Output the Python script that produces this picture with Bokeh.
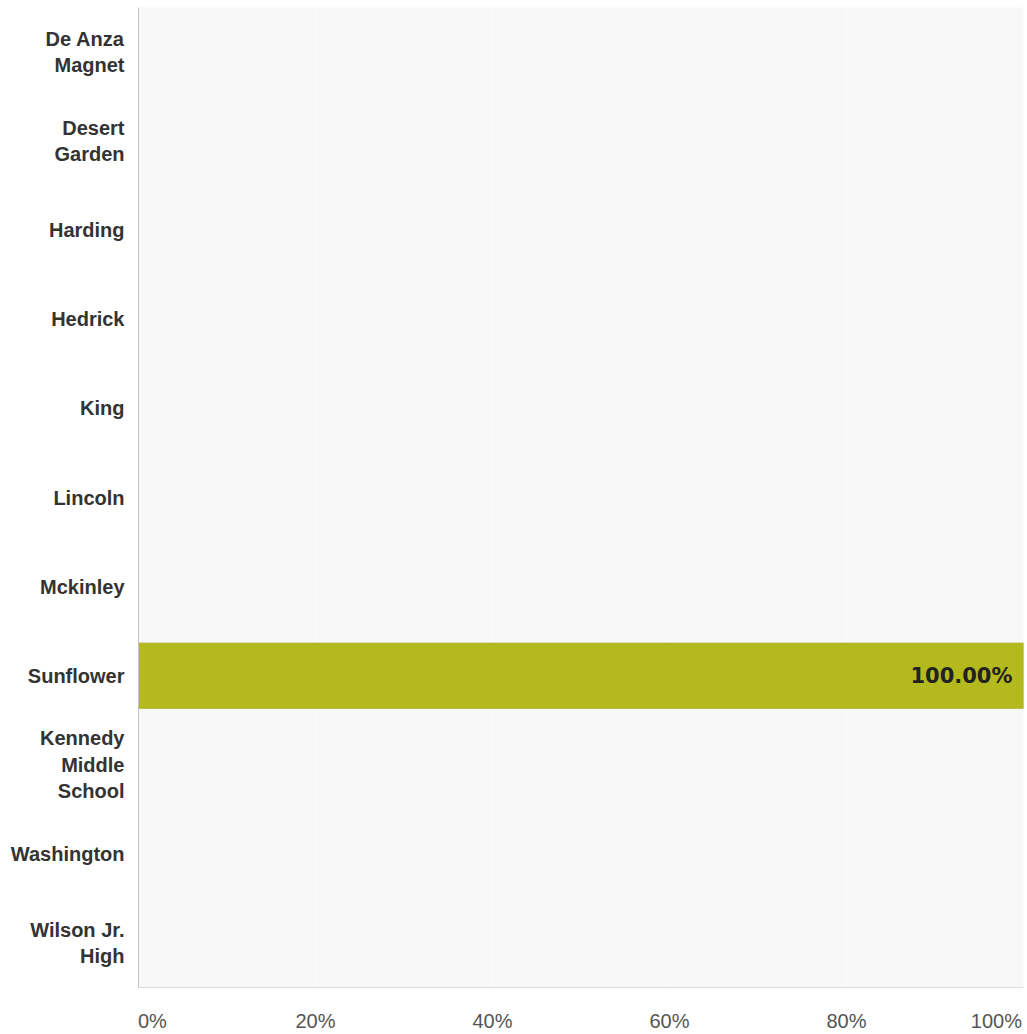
from bokeh.plotting import figure
from bokeh.models import ColumnDataSource, FactorRange, FixedTicker, Range1d
from bokeh.embed import file_html
from bokeh.resources import INLINE
from bokeh.core.properties import value

schools = ["De Anza\nMagnet", "Desert\nGarden", "Harding", "Hedrick", "King", "Lincoln",
           "Mckinley", "Sunflower", "Kennedy\nMiddle\nSchool", "Washington", "Wilson Jr.\nHigh"]
percents = [0, 0, 0, 0, 0, 0, 0, 100, 0, 0, 0]
x_ticks = [0, 20, 40, 60, 80, 100]
x_tick_labels = ["0%", "20%", "40%", "60%", "80%", "100%"]

NB = "\u00a0"
overrides = {}
for i, (t, lab) in enumerate(zip(x_ticks, x_tick_labels)):
    if i == 0:
        overrides[t] = NB * 5 + lab
    elif i == len(x_ticks) - 1:
        overrides[t] = lab + NB * 1
    else:
        overrides[t] = lab

p = figure(width=1027, height=1034, output_backend="svg", toolbar_location=None,
           y_range=FactorRange(*list(reversed(schools)), range_padding=0),
           x_range=Range1d(0, 100),
           min_border_left=138, min_border_right=4, min_border_top=7, min_border_bottom=47)

p.background_fill_color = "#f8f8f8"
p.border_fill_color = "white"
p.outline_line_color = None

src = ColumnDataSource(dict(school=schools, pct=percents))
p.hbar(y="school", right="pct", left=0, height=0.73, source=src,
       fill_color="#b4ba1d", line_color="#a9ae1a", line_width=1)

lab_school = [s for s, v in zip(schools, percents) if v > 0]
lab_pct = [v for v in percents if v > 0]
lab_txt = ["%.2f%%" % v for v in lab_pct]
lsrc = ColumnDataSource(dict(school=lab_school, pct=lab_pct, txt=lab_txt))
p.text(x="pct", y="school", text="txt", source=lsrc, x_offset=-11,
       text_align="right", text_baseline="middle",
       text_font=value("DejaVu Sans"), text_font_style="bold",
       text_font_size="21px", text_color="#222222")

p.xaxis.ticker = FixedTicker(ticks=x_ticks)
p.xaxis.major_label_overrides = overrides
p.xaxis.major_label_text_font = "Liberation Sans"
p.xaxis.major_label_text_font_size = "20px"
p.xaxis.major_label_text_color = "#555555"
p.xaxis.major_label_standoff = 16
p.xaxis.major_tick_line_color = None
p.xaxis.minor_tick_line_color = None
p.xaxis.axis_line_color = "#dcdce4"

p.yaxis.major_label_text_font = "Liberation Sans"
p.yaxis.major_label_text_font_style = "bold"
p.yaxis.major_label_text_font_size = "20px"
p.yaxis.major_label_text_color = "#333333"
p.yaxis.major_label_standoff = 8
p.yaxis.major_tick_line_color = None
p.yaxis.minor_tick_line_color = None
p.yaxis.axis_line_color = "#c4c4c4"

p.ygrid.grid_line_color = None
p.xgrid.grid_line_color = "#ffffff"
p.xgrid.grid_line_alpha = 0.6

open("out.html", "w").write(file_html(p, INLINE))
